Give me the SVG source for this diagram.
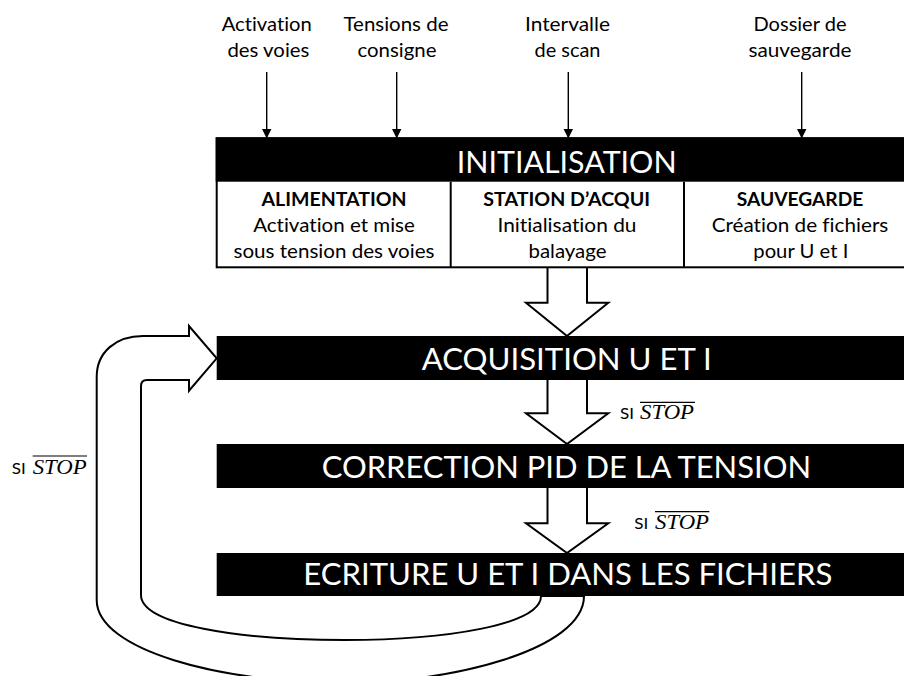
<svg xmlns="http://www.w3.org/2000/svg" width="904" height="676" viewBox="0 0 904 676">
  <defs>
    <style>
      text { font-variant-ligatures: none; font-feature-settings: "liga" 0, "dlig" 0; }
      .lbl { font-family: Lato, "Liberation Sans", Arial, sans-serif; font-size: 20px; fill: #000; text-anchor: middle; }
      .ttl { font-family: Lato, "Liberation Sans", Arial, sans-serif; font-size: 19px; font-weight: bold; fill: #000; text-anchor: middle; }
      .bar { fill: #000; }
      .bartxt { font-family: Lato, "Liberation Sans", Arial, sans-serif; font-size: 31px; fill: #fff; text-anchor: middle; }
      .si { font-family: Lato, "Liberation Sans", Arial, sans-serif; font-size: 16px; fill: #000; }
      .stop { font-family: "Liberation Serif", "Times New Roman", serif; font-style: italic; font-size: 20px; fill: #000; }
      .ovl { stroke: #000; stroke-width: 1.2; }
      .thin { stroke: #000; stroke-width: 1.4; fill: none; }
      .hollow { fill: #fff; stroke: #000; stroke-width: 2; stroke-linejoin: miter; }
      .cell { fill: #fff; stroke: #000; stroke-width: 2; }
    </style>
    <marker id="ah" markerWidth="10" markerHeight="10" refX="10" refY="5" orient="auto" markerUnits="userSpaceOnUse">
      <path d="M0,0 L10,5 L0,10 Z" fill="#000"/>
    </marker>
  </defs>
  <rect width="904" height="676" fill="#fff"/>

  <g id="connectors">
    <!-- input arrows -->
    <line class="thin" x1="266.7" y1="72" x2="266.7" y2="138.5" marker-end="url(#ah)"/>
    <line class="thin" x1="396.7" y1="72" x2="396.7" y2="138.5" marker-end="url(#ah)"/>
    <line class="thin" x1="568.3" y1="72" x2="568.3" y2="138.5" marker-end="url(#ah)"/>
    <line class="thin" x1="801.7" y1="72" x2="801.7" y2="138.5" marker-end="url(#ah)"/>

    <!-- loop-back hollow arrow -->
    <path class="hollow" d="M584,596 C584,650 450,683 345,683 C220,683 96.7,650 96.7,600 L96.7,377 C96.7,352 116,336 143,336 L189,336 L189,326 L216.7,358.3 L189,390.7 L189,380 L147,380 Q141,380 141,386 L141,595 C141,625 240,640 345,640 C445,640 541,625 541,596 Z"/>

    <!-- hollow down arrows -->
    <path class="hollow" d="M547.5,267 L547.5,302.7 L526,302.7 L567,336 L608.3,302.7 L587,302.7 L587,267"/>
    <path class="hollow" d="M547.5,380 L547.5,413.3 L526,413.3 L567,444 L608.3,413.3 L587,413.3 L587,380"/>
    <path class="hollow" d="M547.5,488 L547.5,523.3 L526,523.3 L567,553 L608.3,523.3 L587,523.3 L587,488"/>

    <!-- condition labels -->
    <g id="cond1">
      <text class="si" x="620" y="419.3" textLength="14" lengthAdjust="spacingAndGlyphs">SI</text>
      <text class="stop" x="640" y="419.3" textLength="54" lengthAdjust="spacingAndGlyphs">STOP</text>
      <line class="ovl" x1="640" y1="402.3" x2="695" y2="402.3"/>
    </g>
    <g id="cond2">
      <text class="si" x="634.3" y="529.3" textLength="14" lengthAdjust="spacingAndGlyphs">SI</text>
      <text class="stop" x="655" y="529.3" textLength="54" lengthAdjust="spacingAndGlyphs">STOP</text>
      <line class="ovl" x1="655" y1="511.7" x2="709.3" y2="511.7"/>
    </g>
    <g id="cond3">
      <text class="si" x="11.7" y="474.3" textLength="14" lengthAdjust="spacingAndGlyphs">SI</text>
      <text class="stop" x="32.7" y="474.3" textLength="54" lengthAdjust="spacingAndGlyphs">STOP</text>
      <line class="ovl" x1="32.7" y1="456" x2="87" y2="456"/>
    </g>
  </g>

  <g id="in-activation">
    <text class="lbl" x="266.7" y="31" textLength="90" lengthAdjust="spacingAndGlyphs">Activation</text>
    <text class="lbl" x="268.4" y="57" textLength="82" lengthAdjust="spacingAndGlyphs">des voies</text>
  </g>
  <g id="in-tensions">
    <text class="lbl" x="396" y="31" textLength="105" lengthAdjust="spacingAndGlyphs">Tensions de</text>
    <text class="lbl" x="397" y="57" textLength="79" lengthAdjust="spacingAndGlyphs">consigne</text>
  </g>
  <g id="in-intervalle">
    <text class="lbl" x="567.5" y="31" textLength="85" lengthAdjust="spacingAndGlyphs">Intervalle</text>
    <text class="lbl" x="567.5" y="57" textLength="66" lengthAdjust="spacingAndGlyphs">de scan</text>
  </g>
  <g id="in-dossier">
    <text class="lbl" x="800" y="31" textLength="93" lengthAdjust="spacingAndGlyphs">Dossier de</text>
    <text class="lbl" x="800" y="57" textLength="103" lengthAdjust="spacingAndGlyphs">sauvegarde</text>
  </g>

  <g id="n-init">
    <rect class="cell" x="216.7" y="138.3" width="710" height="129"/>
    <rect class="bar" x="215.7" y="137.3" width="712" height="44.4"/>
    <text class="bartxt" x="566.7" y="172.7" textLength="220" lengthAdjust="spacingAndGlyphs">INITIALISATION</text>
    <line stroke="#000" stroke-width="2" x1="450.7" y1="181.7" x2="450.7" y2="267.3"/>
    <line stroke="#000" stroke-width="2" x1="684" y1="181.7" x2="684" y2="267.3"/>
    <g id="c-alim">
      <text class="ttl" x="334" y="206" textLength="145" lengthAdjust="spacingAndGlyphs">ALIMENTATION</text>
      <text class="lbl" x="334" y="231.7" textLength="161.7" lengthAdjust="spacingAndGlyphs">Activation et mise</text>
      <text class="lbl" x="334" y="258.3" textLength="201" lengthAdjust="spacingAndGlyphs">sous tension des voies</text>
    </g>
    <g id="c-station">
      <text class="ttl" x="566.7" y="206" textLength="166.7" lengthAdjust="spacingAndGlyphs">STATION D’ACQUI</text>
      <text class="lbl" x="567" y="231.7" textLength="139" lengthAdjust="spacingAndGlyphs">Initialisation du</text>
      <text class="lbl" x="567.5" y="258.3" textLength="78" lengthAdjust="spacingAndGlyphs">balayage</text>
    </g>
    <g id="c-sauv">
      <text class="ttl" x="800" y="206" textLength="126.7" lengthAdjust="spacingAndGlyphs">SAUVEGARDE</text>
      <text class="lbl" x="800" y="231.7" textLength="176.7" lengthAdjust="spacingAndGlyphs">Création de fichiers</text>
      <text class="lbl" x="800.8" y="258.3" textLength="95" lengthAdjust="spacingAndGlyphs">pour U et I</text>
    </g>
  </g>

  <g id="n-acq">
    <rect class="bar" x="216.7" y="336" width="710" height="44"/>
    <text class="bartxt" x="566.7" y="370" textLength="290" lengthAdjust="spacingAndGlyphs">ACQUISITION U ET I</text>
  </g>
  <g id="n-corr">
    <rect class="bar" x="216.7" y="444" width="710" height="44"/>
    <text class="bartxt" x="566.4" y="478.3" textLength="489.3" lengthAdjust="spacingAndGlyphs">CORRECTION PID DE LA TENSION</text>
  </g>
  <g id="n-ecr">
    <rect class="bar" x="216.7" y="553" width="710" height="43"/>
    <text class="bartxt" x="567.8" y="585" textLength="529" lengthAdjust="spacingAndGlyphs">ECRITURE U ET I DANS LES FICHIERS</text>
  </g>
</svg>
